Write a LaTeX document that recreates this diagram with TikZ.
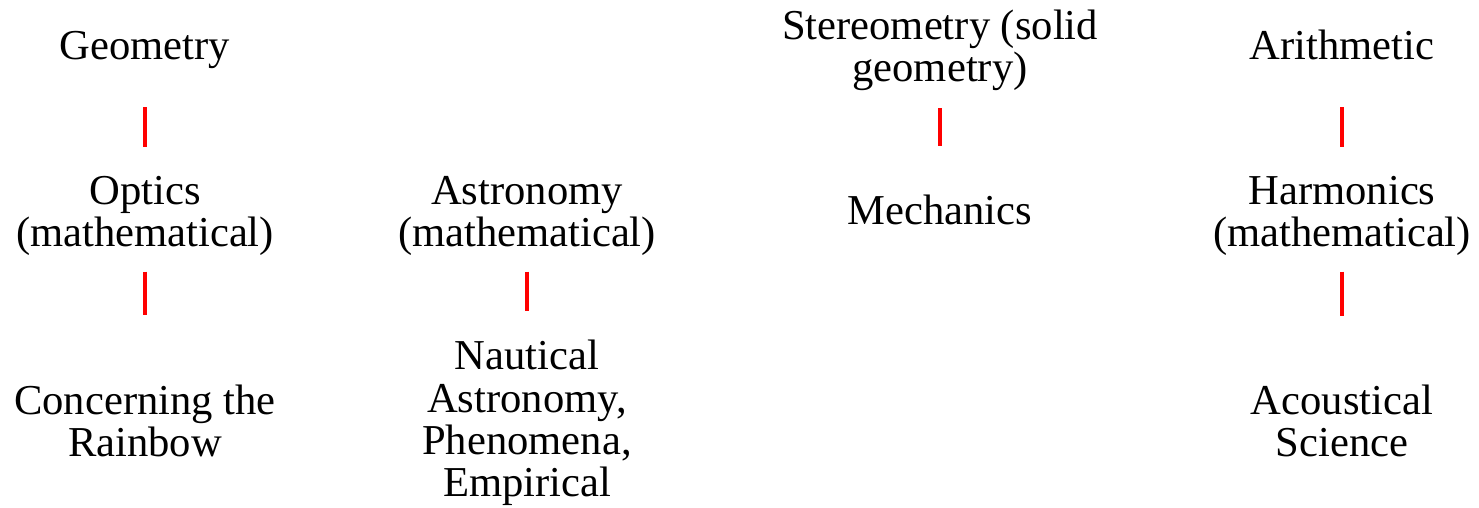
\documentclass[tikz,border=0pt]{standalone}
\usepackage{fontspec}
\setmainfont{Liberation Serif}
\begin{document}
\begin{tikzpicture}[x=1pt,y=-1pt,
  lbl/.style={inner sep=0pt,outer sep=0pt,align=center,font=\fontsize{42.6}{42.2}\selectfont},
  conn/.style={draw=red,line width=3.5pt}]
\useasboundingbox (0,0) rectangle (1479,507);
% column 1
\node[lbl,anchor=base] (geo) at (145,59) {Geometry};
\node[lbl] (opt) at (145,216) {Optics\\(mathematical)};
\node[lbl] (rain) at (145,421) {Concerning the\\Rainbow};
% column 2
\node[lbl] (ast) at (527,216) {Astronomy\\(mathematical)};
\node[lbl] (naut) at (527,423) {Nautical\\Astronomy,\\Phenomena,\\Empirical};
% column 3
\node[lbl] (ster) at (940,50) {Stereometry (solid\\geometry)};
\node[lbl,anchor=base] (mech) at (940,224) {Mechanics};
% column 4
\node[lbl,anchor=base] (ari) at (1342,59) {Arithmetic};
\node[lbl] (harm) at (1342,216) {Harmonics\\(mathematical)};
\node[lbl] (acou) at (1342,421) {Acoustical\\Science};
% connectors
\draw[conn,shorten <=39pt,shorten >=29pt] (geo) -- (opt);
\draw[conn,shorten <=16pt,shorten >=70pt] (opt) -- (rain);
\draw[conn,shorten <=16pt,shorten >=29pt] (ast) -- (naut);
\draw[conn,shorten <=18pt,shorten >=48pt] (ster) -- (mech);
\draw[conn,shorten <=48pt,shorten >=29pt] (ari) -- (harm);
\draw[conn,shorten <=16pt,shorten >=69pt] (harm) -- (acou);
\end{tikzpicture}
\end{document}
